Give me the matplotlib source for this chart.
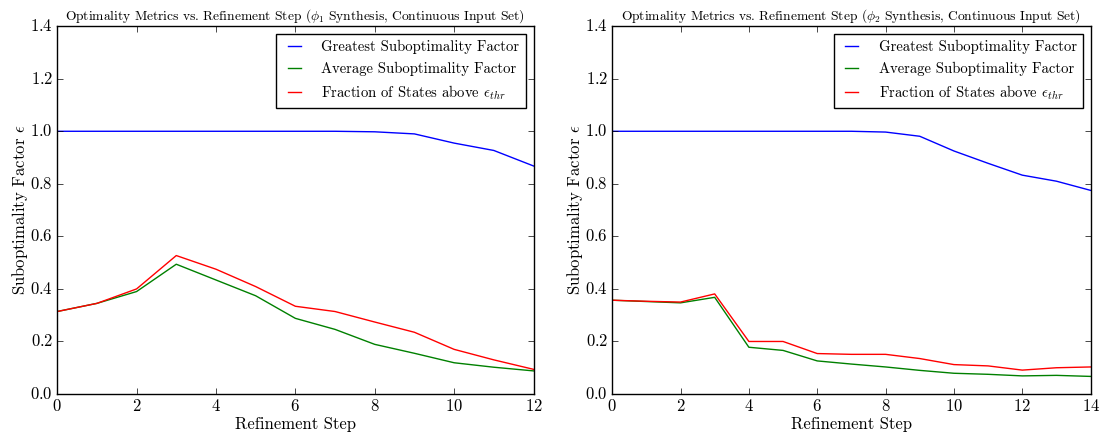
import matplotlib
matplotlib.use("Agg")
import matplotlib.pyplot as plt

plt.style.use("classic")
plt.rcParams.update({
    "font.family": "serif",
    "font.serif": ["cmr10"],
    "mathtext.fontset": "cm",
    "axes.formatter.use_mathtext": True,
    "figure.facecolor": "white",
    "savefig.facecolor": "white",
    "font.size": 12,
    "xtick.major.pad": 3,
    "ytick.major.pad": 3,
})

# phi_1 synthesis run
steps_1 = list(range(13))
greatest_1 = [1.0, 1.0, 1.0, 1.0, 1.0, 1.0, 1.0, 1.0, 0.998, 0.99, 0.955, 0.927, 0.868]
average_1 = [0.314, 0.345, 0.390, 0.494, 0.434, 0.374, 0.288, 0.246, 0.189, 0.155, 0.119, 0.102, 0.088]
fraction_1 = [0.314, 0.345, 0.400, 0.527, 0.475, 0.409, 0.334, 0.314, 0.274, 0.235, 0.170, 0.130, 0.094]

# phi_2 synthesis run
steps_2 = list(range(15))
greatest_2 = [1.0, 1.0, 1.0, 1.0, 1.0, 1.0, 1.0, 1.0, 0.997, 0.981, 0.925, 0.878, 0.833, 0.81, 0.775]
average_2 = [0.357, 0.352, 0.347, 0.368, 0.178, 0.166, 0.126, 0.114, 0.103, 0.090, 0.079, 0.075, 0.069, 0.071, 0.067]
fraction_2 = [0.357, 0.353, 0.350, 0.381, 0.200, 0.200, 0.154, 0.151, 0.151, 0.135, 0.112, 0.107, 0.091, 0.100, 0.103]

titles = [
    r"Optimality Metrics vs. Refinement Step ($\phi_1$ Synthesis, Continuous Input Set)",
    r"Optimality Metrics vs. Refinement Step ($\phi_2$ Synthesis, Continuous Input Set)",
]
series_labels = [
    "Greatest Suboptimality Factor",
    "Average Suboptimality Factor",
    r"Fraction of States above $\epsilon_{thr}$",
]

fig = plt.figure(figsize=(11, 4.4), dpi=100)
ax1 = fig.add_axes([0.052, 0.1045, 0.433, 0.836])
ax2 = fig.add_axes([0.5565, 0.1045, 0.435, 0.836])

runs = [
    (ax1, steps_1, greatest_1, average_1, fraction_1, titles[0], 12),
    (ax2, steps_2, greatest_2, average_2, fraction_2, titles[1], 14),
]

for ax, x, g, a, f, title, xmax in runs:
    ax.plot(x, g, color="b", lw=1.0, label=series_labels[0])
    ax.plot(x, a, color="g", lw=1.0, label=series_labels[1])
    ax.plot(x, f, color="r", lw=1.0, label=series_labels[2])
    ax.set_xlim(0, xmax)
    ax.set_ylim(0.0, 1.4)
    ax.set_xticks(range(0, xmax + 1, 2))
    ax.set_yticks([0.0, 0.2, 0.4, 0.6, 0.8, 1.0, 1.2, 1.4])
    ax.set_title(title, fontsize=9.7, pad=5)
    ax.set_xlabel("Refinement Step", fontsize=12, labelpad=2)
    ax.set_ylabel(r"Suboptimality Factor $\epsilon$", fontsize=12, labelpad=0)
    ax.tick_params(labelsize=12)
    leg = ax.legend(loc="upper right", fontsize=10.6, handlelength=1.5,
                    handletextpad=1.1, borderaxespad=0.5, borderpad=0.45,
                    fancybox=False)
    leg.get_frame().set_linewidth(1.0)

fig.savefig("out.png", dpi=100)
